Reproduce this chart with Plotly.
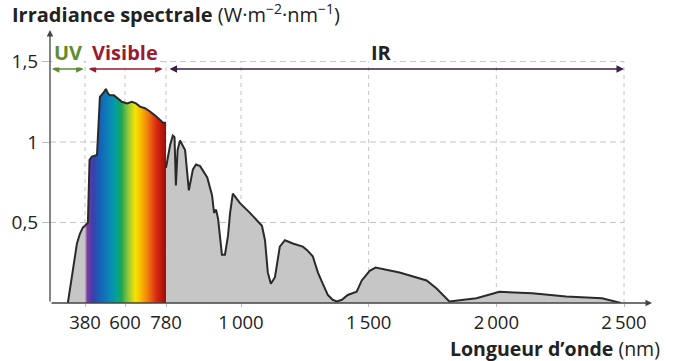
import numpy as np
import plotly.graph_objects as go

# ---- data ----
WL_UV_VIS = [282, 311, 334, 351, 368, 380, 396, 405, 418, 446, 462, 484, 495, 507, 517,
             539, 561, 583, 609, 630, 648, 666, 688, 710, 736, 767, 780]
IRR_UV_VIS = [0, 0.22, 0.37, 0.43, 0.47, 0.48, 0.50, 0.89, 0.91, 0.92, 1.28, 1.31, 1.33, 1.30, 1.29,
              1.29, 1.27, 1.25, 1.24, 1.25, 1.24, 1.22, 1.21, 1.19, 1.16, 1.12, 1.12]

WL_IR = [780, 792, 800, 805, 809, 814, 821, 836, 847, 859, 868, 880, 901, 915, 921, 927, 933,
         944, 953, 962, 968, 976, 997, 1035, 1082, 1094, 1105, 1117, 1133, 1152, 1172, 1203,
         1242, 1258, 1281, 1301, 1320, 1340, 1359, 1375, 1395, 1418, 1453, 1473, 1504, 1527,
         1621, 1727, 1766, 1816, 1922, 1984, 2012, 2141, 2273, 2414, 2461, 2488]
IRR_IR = [0.84, 0.98, 1.04, 1.03, 0.73, 0.95, 1.01, 0.95, 0.70, 0.83, 0.86, 0.85, 0.78, 0.67,
          0.56, 0.58, 0.52, 0.30, 0.30, 0.42, 0.56, 0.68, 0.62, 0.56, 0.48, 0.39, 0.19, 0.12,
          0.16, 0.35, 0.39, 0.37, 0.35, 0.33, 0.29, 0.19, 0.12, 0.05, 0.02, 0.01, 0.02, 0.05,
          0.07, 0.14, 0.20, 0.22, 0.19, 0.14, 0.09, 0.01, 0.03, 0.06, 0.07, 0.06, 0.04, 0.03,
          0.01, 0.0]

X_TICKS = [380, 600, 780, 1000, 1500, 2000, 2500]
X_TICKTEXT = ["380", "600", "780", "1\u2009000", "1\u2009500", "2\u2009000", "2\u2009500"]
Y_TICKS = [0.5, 1, 1.5]
Y_TICKTEXT = ["0,5", "1", "1,5"]

# non-linear (piecewise) wavelength scale of the original figure
WL_BREAKS = [180, 380, 600, 780, 1000, 2500, 2610]
U_BREAKS = [50, 85, 125, 166, 241, 624, 652]


def u(wl):
    return np.interp(wl, WL_BREAKS, U_BREAKS)


FONT = "Open Sans"
TXT = "#222222"
GREY_FILL = "#c6c6c6"
LINE = "#2a2a2a"
GRID = "#c4c4c4"

wl_uv = [w for w in WL_UV_VIS if w <= 380]
irr_uv = [v for w, v in zip(WL_UV_VIS, IRR_UV_VIS) if w <= 380]
wl_vis = [w for w in WL_UV_VIS if w >= 380]
irr_vis = [v for w, v in zip(WL_UV_VIS, IRR_UV_VIS) if w >= 380]

fig = go.Figure()

# UV part (grey)
fig.add_trace(go.Scatter(x=u(wl_uv), y=irr_uv, mode="lines", fill="tozeroy",
                         fillcolor=GREY_FILL, line=dict(width=0), hoverinfo="skip"))
# Visible part (rainbow)
fig.add_trace(go.Scatter(
    x=u(wl_vis), y=irr_vis, mode="lines", fill="tozeroy", line=dict(width=0),
    fillgradient=dict(type="horizontal", colorscale=[
        [0.0, "#c9a6d9"], [0.03, "#7a3a9e"], [0.10, "#3a3fae"], [0.18, "#1660b8"],
        [0.30, "#0a86b8"], [0.38, "#00a0a0"], [0.45, "#1ea650"], [0.53, "#8cc63e"],
        [0.62, "#f5e400"], [0.70, "#f7b400"], [0.78, "#ef7a10"], [0.88, "#d92a12"],
        [1.0, "#9e0a0a"]]),
    hoverinfo="skip"))
# IR part (grey)
fig.add_trace(go.Scatter(x=u(WL_IR), y=IRR_IR, mode="lines", fill="tozeroy",
                         fillcolor=GREY_FILL, line=dict(width=0), hoverinfo="skip"))
# outline
fig.add_trace(go.Scatter(x=u(WL_UV_VIS), y=IRR_UV_VIS, mode="lines",
                         line=dict(color=LINE, width=2), hoverinfo="skip"))
fig.add_trace(go.Scatter(x=u(WL_IR), y=IRR_IR, mode="lines",
                         line=dict(color=LINE, width=2), hoverinfo="skip"))

shapes = []
for t in X_TICKS:
    shapes.append(dict(type="line", xref="x", yref="y", x0=u(t), x1=u(t), y0=0, y1=1.5,
                       line=dict(color=GRID, width=1, dash="4px,4px"), layer="below"))
for t in Y_TICKS:
    shapes.append(dict(type="line", xref="x", yref="y", x0=u(180), x1=u(2500), y0=t, y1=t,
                       line=dict(color=GRID, width=1, dash="6px,4px"), layer="below"))

annotations = []
# axes with arrow heads
annotations.append(dict(x=u(2610), y=0, ax=u(180), ay=0, xref="x", yref="y", axref="x", ayref="y",
                        text="", showarrow=True, arrowhead=2, arrowsize=1, arrowwidth=1.3,
                        arrowcolor="#444444"))
annotations.append(dict(x=u(180), y=1.696, ax=u(180), ay=0, xref="x", yref="y", axref="x", ayref="y",
                        text="", showarrow=True, arrowhead=2, arrowsize=1, arrowwidth=1.3,
                        arrowcolor="#444444"))

# domain arrows
ARROW_Y = 1.453
LABEL_Y = 1.555
for (a, b, col) in [(182, 372, "#5e8c2e"), (392, 765, "#9b1b30"), (786, 2500, "#3a1f47")]:
    annotations.append(dict(x=u(b), y=ARROW_Y, ax=u(a), ay=ARROW_Y, xref="x", yref="y",
                            axref="x", ayref="y", text="", showarrow=True, arrowhead=2,
                            startarrowhead=2, arrowside="end+start", arrowsize=1,
                            startarrowsize=1, arrowwidth=1.5, arrowcolor=col))
for (w, txt, col) in [(281, "UV", "#5e8c2e"), (598, "Visible", "#9b1b30"), (1552, "IR", "#222222")]:
    annotations.append(dict(x=u(w), y=LABEL_Y, xref="x", yref="y", text="<b>" + txt + "</b>",
                            showarrow=False, bgcolor="white", borderpad=1,
                            font=dict(family=FONT, size=20, color=col)))

# x-axis title
annotations.append(dict(x=(662 - 50) / 602, y=(303 - 348) / 273, xref="paper", yref="paper",
                        xanchor="right", yanchor="middle", showarrow=False,
                        text="<b>Longueur d\u2019onde</b> (nm)",
                        font=dict(family=FONT, size=19.5, color=TXT)))

fig.update_layout(
    width=679, height=361,
    margin=dict(l=50, r=27, t=30, b=58),
    paper_bgcolor="white", plot_bgcolor="white",
    showlegend=False,
    title=dict(text="<b>Irradiance spectrale</b> (W\u00b7m<sup>\u22122</sup>\u00b7nm<sup>\u22121</sup>)",
               x=12 / 679, xanchor="left", xref="container",
               y=1 - 15 / 361, yanchor="middle", yref="container",
               font=dict(family=FONT, size=20, color=TXT)),
    xaxis=dict(range=[u(180), u(2610)], tickvals=list(u(X_TICKS)), ticktext=X_TICKTEXT,
               showgrid=False, zeroline=False, showline=False,
               ticks="outside", ticklen=3, tickcolor="#bbbbbb",
               tickfont=dict(family=FONT, size=18.5, color=TXT)),
    yaxis=dict(range=[0, 1.696], tickvals=Y_TICKS, ticktext=Y_TICKTEXT,
               showgrid=False, zeroline=False, showline=False,
               ticks="outside", ticklen=7, tickcolor="#bbbbbb",
               tickfont=dict(family=FONT, size=19, color=TXT)),
    shapes=shapes,
    annotations=annotations,
)

fig.write_html("out.html", config={"displayModeBar": False},
               post_script="document.body.style.margin='0px';document.body.style.padding='0px';")
